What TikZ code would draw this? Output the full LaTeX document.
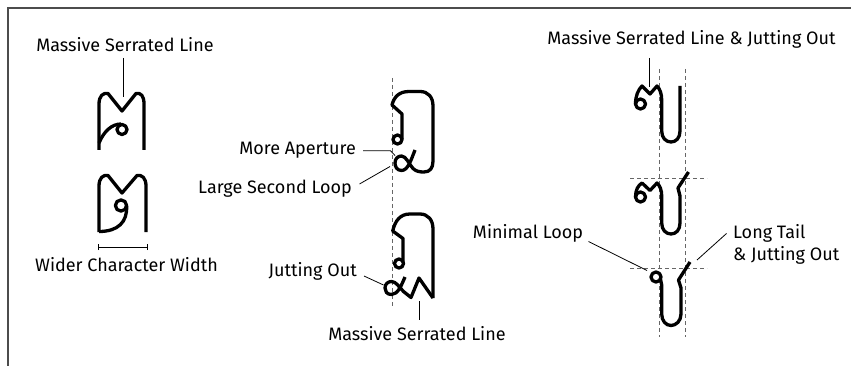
\documentclass[tikz,border=0pt]{standalone}
\usepackage{fontspec}
\setmainfont{Fira Sans}
\begin{document}
\begin{tikzpicture}[x=1pt,y=-1pt,
  glyph/.style={line width=3.3pt,line join=round,line cap=butt},
  leader/.style={line width=0.8pt},
  guide/.style={line width=0.7pt,gray!80!black,dash pattern=on 4pt off 3pt},
  lbl/.style={font=\fontsize{18}{22}\selectfont,inner sep=0pt},
  frame/.style={line width=1.5pt,black!70}]
\useasboundingbox (0,0) rectangle (851,366);
\draw[frame] (8,366) -- (8,8) -- (851,8);

% ---------- left column ----------
\node[lbl,anchor=base] (msl1) at (125,52) {Massive Serrated Line};
\coordinate (msl1a) at (123,58);
\coordinate (msl1b) at (123,97);
\draw[leader] (msl1a) -- (msl1b);

% letter with serrated top and small loop
\draw[glyph] (99,150) -- (99,104) .. controls (99,96) and (103,92.5) .. (108,93.5)
  -- (122,111) -- (136,93.5) .. controls (141,92.5) and (144,96) .. (144,104) -- (144,150);
\draw[glyph] (99,143) .. controls (104,131) and (112,124) .. (121,124);
\draw[glyph] (122,129.5) circle (5);

% wider letter
\draw[glyph] (99,232) -- (99,186) .. controls (99,178) and (103,174.5) .. (108,175.5)
  -- (122,193) -- (137,175.5) .. controls (142,174.5) and (146,178) .. (146,186) -- (146,232);
\draw[glyph] (121,205.5) circle (5.6);
\draw[glyph] (126.6,206) .. controls (127.5,222) and (118,231.5) .. (99,231.5);
\coordinate (wl) at (98,247);
\coordinate (wr) at (147,247);
\draw[leader] (wl) -- (wr);
\draw[leader] ([yshift=-3pt]wl) -- ([yshift=3pt]wl);
\draw[leader] ([yshift=-3pt]wr) -- ([yshift=3pt]wr);
\node[lbl,anchor=base] (wcw) at (126.5,271) {Wider Character Width};

% ---------- middle column ----------
\coordinate (g1) at (392.7,78);
\coordinate (g2) at (392.7,308);
\draw[guide] (g1) -- (g2);

% upper letter
\draw[glyph] (415,150) .. controls (411,160) and (408,170.5) .. (401.5,170.5)
  .. controls (396.5,170.5) and (395,166) .. (395,163)
  .. controls (395,158.5) and (398,156) .. (401.5,156)
  .. controls (406,156) and (409,164) .. (413,168.5)
  .. controls (416,171.5) and (420,172) .. (424,172)
  .. controls (430,172) and (433,168) .. (433,161) -- (433,106)
  .. controls (433,97) and (428,91.5) .. (420,91.5) -- (409,91.5)
  .. controls (399,91.5) and (394,97) .. (392,105) -- (402,114) -- (402,139);
\draw[glyph] (397.5,139.5) circle (4.5);

\node[lbl,anchor=base east] (ma) at (356,155) {More Aperture};
\coordinate (maa) at (363,150.7);
\coordinate (mab) at (390.5,150.7);
\coordinate (mac) at (395,155.5);
\draw[leader] (maa) -- (mab) -- (mac);
\node[lbl,anchor=base east] (lsl) at (352,194) {Large Second Loop};
\coordinate (lsla) at (359.5,184);
\coordinate (lslb) at (390,166.5);
\draw[leader] (lsla) -- (lslb);

% lower letter
\draw[glyph] (433,298) -- (433,229)
  .. controls (433,220) and (428,214) .. (420,214) -- (410,214)
  .. controls (400,214) and (395,221) .. (392.7,231) -- (403,238.5) -- (403,262);
\draw[glyph] (399,263.5) circle (4.5);
\draw[glyph] (405,277) .. controls (401.5,285) and (398,294.5) .. (391.5,294.5)
  .. controls (386.5,294.5) and (385,291) .. (385,288)
  .. controls (385,284) and (388,281.5) .. (391.5,281.5)
  .. controls (396,281.5) and (399,287) .. (403.5,291.5)
  -- (411,297.5) -- (419,278) -- (433,298);

\node[lbl,anchor=base east] (jo) at (357,276) {Jutting Out};
\coordinate (joa) at (364,276);
\coordinate (job) at (383.5,285);
\draw[leader] (joa) -- (job);
\node[lbl,anchor=base] (msl2) at (417,340) {Massive Serrated Line};
\coordinate (msl2a) at (419,301);
\coordinate (msl2b) at (419,319.5);
\draw[leader] (msl2a) -- (msl2b);

% ---------- right column ----------
\coordinate (v1t) at (659,69);
\coordinate (v1b) at (659,337);
\coordinate (v2t) at (685.7,69);
\coordinate (v2b) at (685.7,337);
\coordinate (h1l) at (630,178.3);
\coordinate (h1r) at (707,178.3);
\coordinate (h2l) at (630,268.3);
\coordinate (h2r) at (707,268.3);
\draw[guide] (v1t) -- (v1b);
\draw[guide] (v2t) -- (v2b);
\draw[guide] (h1l) -- (h1r);
\draw[guide] (h2l) -- (h2r);

\node[lbl,anchor=base] (msljo) at (691.5,45) {Massive Serrated Line \& Jutting Out};
\coordinate (mja) at (649,58);
\coordinate (mjb) at (649,87.5);
\draw[leader] (mja) -- (mjb);

% top letter
\draw[glyph] (640.5,104) circle (5);
\draw[glyph] (635.5,104) .. controls (635.5,96) and (638,90) .. (642,86)
  -- (650,94) -- (657,86) .. controls (660,89) and (661.7,94) .. (661.7,100)
  -- (661.7,131) .. controls (661.7,138) and (666,142) .. (671,142)
  .. controls (676,142) and (680,138) .. (680,131) -- (680,86);

% middle letter
\draw[glyph] (640.5,197) circle (5);
\draw[glyph] (635.5,197) .. controls (635.5,190) and (638,185.5) .. (642,183)
  -- (650,190.5) -- (657,183) .. controls (660,186) and (661.7,190) .. (661.7,196)
  -- (661.7,223) .. controls (661.7,230) and (666,234) .. (671,234)
  .. controls (676,234) and (680,230) .. (680,223) -- (680,196) -- (678,188) -- (688.5,172);

% bottom letter
\draw[glyph] (656,277) circle (5);
\draw[glyph] (660.5,279) -- (661.7,285) -- (661.7,314)
  .. controls (661.7,321) and (666,325.5) .. (671,325.5)
  .. controls (676,325.5) and (681,321) .. (681,314) -- (681,288) -- (678.5,280) -- (690,262);

\node[lbl,anchor=base] (ml) at (528,238) {Minimal Loop};
\coordinate (mla) at (588.5,241.5);
\coordinate (mlb) at (647,270.5);
\draw[leader] (mla) -- (mlb);
\node[lbl,anchor=base west] (lt) at (733,238) {Long Tail};
\node[lbl,anchor=base west] (ljo) at (733,260) {\& Jutting Out};
\coordinate (lta) at (726.5,233.5);
\coordinate (ltb) at (697,260);
\draw[leader] (lta) -- (ltb);
\end{tikzpicture}
\end{document}
